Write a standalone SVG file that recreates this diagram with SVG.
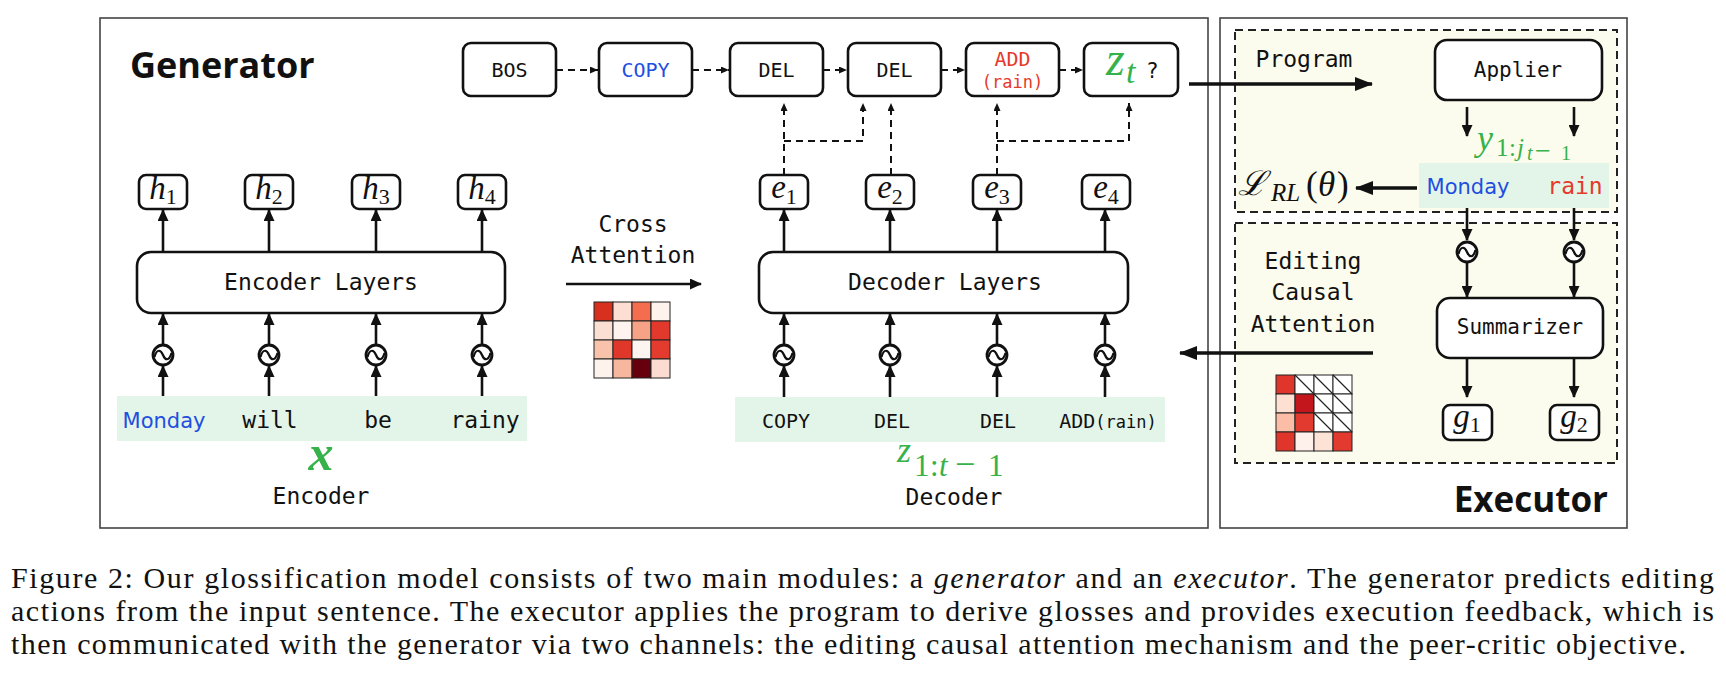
<svg xmlns="http://www.w3.org/2000/svg" xmlns:xlink="http://www.w3.org/1999/xlink" width="1726" height="684" viewBox="0 0 1726 684">
<style>
.frame{fill:#fff;stroke:#444;stroke-width:1.6}
.box{fill:#fff;stroke:#111;stroke-width:2.6}
.mono{font-family:"DejaVu Sans Mono","Liberation Mono",monospace;fill:#111}
.sans{font-family:"DejaVu Sans","Liberation Sans",sans-serif}
.title{font-family:"Open Sans","Liberation Sans",sans-serif;font-weight:700;fill:#111}
.mi{font-family:"Liberation Serif","Times New Roman",serif;font-style:italic;fill:#111}
.rm{font-style:normal}
.green{fill:#36b24a}
.blue{fill:#1f4fe0}
.red{fill:#e5392b}
.band{fill:#e3f5e8}
.cream{fill:#fcfcee;stroke:#222;stroke-width:2;stroke-dasharray:8 5}
.ln{stroke:#111;stroke-width:2.6;fill:none}
.lnb{stroke:#111;stroke-width:3.6;fill:none}
.dash{stroke:#111;stroke-width:2;fill:none;stroke-dasharray:7 5}
.gl{stroke:#d2d2d2;stroke-width:1.1;fill:none}
.cell{stroke:#222;stroke-width:1}
.cap{font-family:"Liberation Serif","Times New Roman",serif;font-size:30px;fill:#111}
</style>
<defs>
<marker id="a" viewBox="0 0 12 11" refX="11" refY="5.5" markerWidth="12" markerHeight="11" orient="auto" markerUnits="userSpaceOnUse"><path d="M0,0 L12,5.5 L0,11 z" fill="#111"/></marker>
<marker id="ab" viewBox="0 0 18 14" refX="17" refY="7" markerWidth="18" markerHeight="14" orient="auto" markerUnits="userSpaceOnUse"><path d="M0,0 L18,7 L0,14 z" fill="#111"/></marker>
<marker id="ad" viewBox="0 0 8 7" refX="8" refY="3.5" markerWidth="8" markerHeight="7" orient="auto" markerUnits="userSpaceOnUse"><path d="M0,0 L8,3.5 L0,7 z" fill="#111"/></marker>
<g id="sig"><circle cx="0" cy="0" r="10" fill="#fff" stroke="#111" stroke-width="2.8"/><path d="M-8.5,2 C-6,-7 -2,-5 0,0 C2,5 6,7 8.5,-2" fill="none" stroke="#111" stroke-width="2.2"/></g>
</defs>
<rect width="1726" height="684" fill="#fff"/>

<!-- frames -->
<g id="generator-frame">
<rect class="frame" x="100" y="18" width="1108" height="510"/>
<text class="title" x="130" y="78" font-size="36">Generator</text>
</g>
<g id="executor-frame">
<rect class="frame" x="1220" y="18" width="407" height="510"/>
<rect class="cream" x="1235" y="30" width="382" height="182"/>
<rect class="cream" x="1235" y="223" width="382" height="240"/>
<text class="title" x="1608" y="512" font-size="35" text-anchor="end">Executor</text>
</g>

<!-- top row action boxes -->
<g id="bos"><rect class="box" x="463" y="43" width="93" height="53" rx="8"/><text class="mono" x="509.5" y="77" font-size="20" text-anchor="middle">BOS</text></g>
<g id="copy"><rect class="box" x="599" y="43" width="93" height="53" rx="8" stroke="#2f6fe0"/><text class="mono blue" x="645.5" y="77" font-size="20" text-anchor="middle">COPY</text></g>
<g id="del1"><rect class="box" x="730" y="43" width="93" height="53" rx="8"/><text class="mono" x="776.5" y="77" font-size="20" text-anchor="middle">DEL</text></g>
<g id="del2"><rect class="box" x="848" y="43" width="93" height="53" rx="8"/><text class="mono" x="894.5" y="77" font-size="20" text-anchor="middle">DEL</text></g>
<g id="add"><rect class="box" x="966" y="43" width="93" height="53" rx="8" stroke="#e8303a"/><text class="mono red" x="1012.5" y="66" font-size="20" text-anchor="middle">ADD</text><text class="mono red" x="1012.5" y="88" font-size="17" text-anchor="middle">(rain)</text></g>
<g id="zt"><rect class="box" x="1084" y="43" width="94" height="53" rx="8" fill="#e3f5e8"/><text class="mi green" x="1106" y="75" font-size="48">z</text><text class="mi green" x="1126" y="83" font-size="34">t</text><text class="mono" x="1146" y="78" font-size="21">?</text></g>

<!-- encoder -->
<g id="h1"><rect class="box" x="139" y="175" width="48" height="34" rx="7"/><text class="mi" x="163" y="199" font-size="33" text-anchor="middle">h<tspan class="rm" font-size="22" dy="5">1</tspan></text></g>
<g id="h2"><rect class="box" x="245" y="175" width="48" height="34" rx="7"/><text class="mi" x="269" y="199" font-size="33" text-anchor="middle">h<tspan class="rm" font-size="22" dy="5">2</tspan></text></g>
<g id="h3"><rect class="box" x="352" y="175" width="48" height="34" rx="7"/><text class="mi" x="376" y="199" font-size="33" text-anchor="middle">h<tspan class="rm" font-size="22" dy="5">3</tspan></text></g>
<g id="h4"><rect class="box" x="458" y="175" width="48" height="34" rx="7"/><text class="mi" x="482" y="199" font-size="33" text-anchor="middle">h<tspan class="rm" font-size="22" dy="5">4</tspan></text></g>

<g id="encoder-layers">
<rect x="137" y="252" width="368" height="61" rx="14" fill="#fff"/>
<path class="gl" d="M163,313 L163,252 M163,313 L269,252 M163,313 L376,252 M163,313 L482,252 M269,313 L163,252 M269,313 L269,252 M269,313 L376,252 M269,313 L482,252 M376,313 L163,252 M376,313 L269,252 M376,313 L376,252 M376,313 L482,252 M482,313 L163,252 M482,313 L269,252 M482,313 L376,252 M482,313 L482,252"/>
<rect class="box" x="137" y="252" width="368" height="61" rx="14" fill="none"/>
<text class="mono" x="321" y="290" font-size="23" text-anchor="middle">Encoder Layers</text>
</g>

<g id="input-x">
<rect class="band" x="117" y="396" width="410" height="45"/>
<text class="sans blue" x="164" y="428" font-size="21" text-anchor="middle">Monday</text>
<text class="mono" x="270" y="428" font-size="23" text-anchor="middle">will</text>
<text class="mono" x="378" y="428" font-size="23" text-anchor="middle">be</text>
<text class="mono" x="485" y="428" font-size="23" text-anchor="middle">rainy</text>
<text class="mi green" x="321" y="470" font-size="50" font-weight="700" text-anchor="middle">x</text>
<text class="mono" x="321" y="504" font-size="23" text-anchor="middle">Encoder</text>
</g>

<!-- cross attention -->
<g id="cross-attention">
<text class="mono" x="633" y="232" font-size="23" text-anchor="middle">Cross</text>
<text class="mono" x="633" y="263" font-size="23" text-anchor="middle">Attention</text>
<g class="cell">
<rect x="594" y="302" width="19" height="19" fill="#d7301f"/><rect x="613" y="302" width="19" height="19" fill="#fcdfd2"/><rect x="632" y="302" width="19" height="19" fill="#f46d4e"/><rect x="651" y="302" width="19" height="19" fill="#fef2ec"/>
<rect x="594" y="321" width="19" height="19" fill="#fbdfd2"/><rect x="613" y="321" width="19" height="19" fill="#fef3ee"/><rect x="632" y="321" width="19" height="19" fill="#f6a287"/><rect x="651" y="321" width="19" height="19" fill="#e2392c"/>
<rect x="594" y="340" width="19" height="19" fill="#f9c2ab"/><rect x="613" y="340" width="19" height="19" fill="#e0372b"/><rect x="632" y="340" width="19" height="19" fill="#fef4ef"/><rect x="651" y="340" width="19" height="19" fill="#e33c2f"/>
<rect x="594" y="359" width="19" height="19" fill="#fef2ec"/><rect x="613" y="359" width="19" height="19" fill="#f7b69e"/><rect x="632" y="359" width="19" height="19" fill="#67000d"/><rect x="651" y="359" width="19" height="19" fill="#fcdcd0"/>
</g>
</g>

<!-- decoder -->
<g id="e1"><rect class="box" x="760" y="175" width="48" height="34" rx="7"/><text class="mi" x="784" y="198" font-size="33" text-anchor="middle">e<tspan class="rm" font-size="22" dy="6">1</tspan></text></g>
<g id="e2"><rect class="box" x="866" y="175" width="48" height="34" rx="7"/><text class="mi" x="890" y="198" font-size="33" text-anchor="middle">e<tspan class="rm" font-size="22" dy="6">2</tspan></text></g>
<g id="e3"><rect class="box" x="973" y="175" width="48" height="34" rx="7"/><text class="mi" x="997" y="198" font-size="33" text-anchor="middle">e<tspan class="rm" font-size="22" dy="6">3</tspan></text></g>
<g id="e4"><rect class="box" x="1082" y="175" width="48" height="34" rx="7"/><text class="mi" x="1106" y="198" font-size="33" text-anchor="middle">e<tspan class="rm" font-size="22" dy="6">4</tspan></text></g>

<g id="decoder-layers">
<rect x="759" y="252" width="369" height="61" rx="14" fill="#fff"/>
<path class="gl" d="M784,313 L890,252 M784,313 L997,252 M784,313 L1105,252 M890,313 L997,252 M890,313 L1105,252 M997,313 L1105,252"/>
<rect class="box" x="759" y="252" width="369" height="61" rx="14" fill="none"/>
<text class="mono" x="945" y="290" font-size="23" text-anchor="middle">Decoder Layers</text>
</g>

<g id="input-z">
<rect class="band" x="735" y="397" width="430" height="45"/>
<text class="mono" x="786" y="428" font-size="20" text-anchor="middle">COPY</text>
<text class="mono" x="892" y="428" font-size="20" text-anchor="middle">DEL</text>
<text class="mono" x="998" y="428" font-size="20" text-anchor="middle">DEL</text>
<text class="mono" x="1108" y="428" font-size="20" text-anchor="middle">ADD<tspan font-size="17">(rain)</tspan></text>
<text class="mi green" font-size="31"><tspan x="897" y="462" font-size="36">z</tspan><tspan class="rm" x="914" y="476">1</tspan><tspan class="rm" x="930" y="476">:</tspan><tspan x="939" y="476">t</tspan><tspan class="rm" x="955" y="476" font-size="36">−</tspan><tspan class="rm" x="988" y="476">1</tspan></text>
<text class="mono" x="954" y="505" font-size="23" text-anchor="middle">Decoder</text>
</g>

<!-- executor -->
<g id="applier"><rect class="box" x="1435" y="40" width="167" height="60" rx="12"/><text class="mono" x="1518" y="77" font-size="21" text-anchor="middle">Applier</text></g>
<g id="program-label"><text class="mono" x="1304" y="67" font-size="23" text-anchor="middle">Program</text></g>
<g id="gloss-output">
<text class="mi green" font-size="36"><tspan x="1477" y="150">y</tspan><tspan class="rm" x="1496" y="156" font-size="25">1</tspan><tspan class="rm" x="1509" y="156" font-size="25">:</tspan><tspan x="1517" y="156" font-size="25">j</tspan><tspan x="1527" y="160" font-size="20">t</tspan><tspan class="rm" x="1535" y="160" font-size="28">−</tspan><tspan class="rm" x="1561" y="160" font-size="20">1</tspan></text>
<rect class="band" x="1419" y="163" width="190" height="45"/>
<text class="sans blue" x="1468" y="194" font-size="21" text-anchor="middle">Monday</text>
<text class="mono red" x="1575" y="194" font-size="23" text-anchor="middle">rain</text>
</g>
<g id="loss"><text class="mi" font-size="35"><tspan x="1238" y="195" font-family="DejaVu Serif, serif" font-size="34">ℒ</tspan><tspan x="1271" y="201" font-size="25">RL</tspan><tspan class="rm" x="1306" y="196">(</tspan><tspan x="1318" y="196">θ</tspan><tspan class="rm" x="1337" y="196">)</tspan></text></g>
<g id="eca-label">
<text class="mono" x="1313" y="269" font-size="23" text-anchor="middle">Editing</text>
<text class="mono" x="1313" y="300" font-size="23" text-anchor="middle">Causal</text>
<text class="mono" x="1313" y="332" font-size="23" text-anchor="middle">Attention</text>
</g>
<g id="causal-map" class="cell">
<rect x="1276" y="375" width="19" height="19" fill="#e0352b"/><rect x="1295" y="375" width="19" height="19" fill="#fff"/><rect x="1314" y="375" width="19" height="19" fill="#fff"/><rect x="1333" y="375" width="19" height="19" fill="#fff"/>
<rect x="1276" y="394" width="19" height="19" fill="#fde0d2"/><rect x="1295" y="394" width="19" height="19" fill="#c3151c"/><rect x="1314" y="394" width="19" height="19" fill="#fff"/><rect x="1333" y="394" width="19" height="19" fill="#fff"/>
<rect x="1276" y="413" width="19" height="19" fill="#fcbda6"/><rect x="1295" y="413" width="19" height="19" fill="#e23a2e"/><rect x="1314" y="413" width="19" height="19" fill="#fff"/><rect x="1333" y="413" width="19" height="19" fill="#fff"/>
<rect x="1276" y="432" width="19" height="19" fill="#e0352b"/><rect x="1295" y="432" width="19" height="19" fill="#fef0ea"/><rect x="1314" y="432" width="19" height="19" fill="#fde3d6"/><rect x="1333" y="432" width="19" height="19" fill="#e23a2e"/>
<path d="M1295,375 L1314,394 M1314,375 L1333,394 M1333,375 L1352,394 M1314,394 L1333,413 M1333,394 L1352,413 M1314,413 L1333,432 M1333,413 L1352,432" stroke="#222" stroke-width="1.2"/>
</g>
<g id="summarizer">
<rect x="1437" y="298" width="166" height="60" rx="13" fill="#fff"/>
<path class="gl" d="M1467,298 L1467,358 M1574,298 L1574,358 M1467,298 L1574,358 M1574,298 L1467,358"/>
<rect class="box" x="1437" y="298" width="166" height="60" rx="13" fill="none"/>
<text class="mono" x="1520" y="334" font-size="21" text-anchor="middle">Summarizer</text>
</g>
<g id="g1"><rect class="box" x="1443" y="405" width="49" height="35" rx="7"/><text class="mi" x="1467" y="427" font-size="33" text-anchor="middle">g<tspan class="rm" font-size="22" dy="5">1</tspan></text></g>
<g id="g2"><rect class="box" x="1550" y="405" width="49" height="35" rx="7"/><text class="mi" x="1574" y="427" font-size="33" text-anchor="middle">g<tspan class="rm" font-size="22" dy="5">2</tspan></text></g>

<!-- connectors -->
<g id="connectors">
<path class="dash" d="M556,70 L598,70" marker-end="url(#ad)"/>
<path class="dash" d="M692,70 L729,70" marker-end="url(#ad)"/>
<path class="dash" d="M823,70 L847,70" marker-end="url(#ad)"/>
<path class="dash" d="M941,70 L965,70" marker-end="url(#ad)"/>
<path class="dash" d="M1059,70 L1083,70" marker-end="url(#ad)"/>
<path class="dash" d="M784,175 L784,103" marker-end="url(#ad)"/>
<path class="dash" d="M784,141 L863,141 L863,103" marker-end="url(#ad)"/>
<path class="dash" d="M891,175 L891,103" marker-end="url(#ad)"/>
<path class="dash" d="M997,175 L997,103" marker-end="url(#ad)"/>
<path class="dash" d="M997,141 L1129,141 L1129,103" marker-end="url(#ad)"/>
<path class="ln" d="M163,252 L163,210" marker-end="url(#a)"/><path class="ln" d="M269,252 L269,210" marker-end="url(#a)"/><path class="ln" d="M376,252 L376,210" marker-end="url(#a)"/><path class="ln" d="M482,252 L482,210" marker-end="url(#a)"/>
<path class="ln" d="M163,345 L163,314" marker-end="url(#a)"/><path class="ln" d="M269,345 L269,314" marker-end="url(#a)"/><path class="ln" d="M376,345 L376,314" marker-end="url(#a)"/><path class="ln" d="M482,345 L482,314" marker-end="url(#a)"/>
<path class="ln" d="M163,396 L163,366" marker-end="url(#a)"/><path class="ln" d="M269,396 L269,366" marker-end="url(#a)"/><path class="ln" d="M376,396 L376,366" marker-end="url(#a)"/><path class="ln" d="M482,396 L482,366" marker-end="url(#a)"/>
<use xlink:href="#sig" x="163" y="355"/><use xlink:href="#sig" x="269" y="355"/><use xlink:href="#sig" x="376" y="355"/><use xlink:href="#sig" x="482" y="355"/>
<path class="ln" d="M784,252 L784,210" marker-end="url(#a)"/><path class="ln" d="M890,252 L890,210" marker-end="url(#a)"/><path class="ln" d="M997,252 L997,210" marker-end="url(#a)"/><path class="ln" d="M1105,252 L1105,210" marker-end="url(#a)"/>
<path class="ln" d="M784,345 L784,314" marker-end="url(#a)"/><path class="ln" d="M890,345 L890,314" marker-end="url(#a)"/><path class="ln" d="M997,345 L997,314" marker-end="url(#a)"/><path class="ln" d="M1105,345 L1105,314" marker-end="url(#a)"/>
<path class="ln" d="M784,397 L784,366" marker-end="url(#a)"/><path class="ln" d="M890,397 L890,366" marker-end="url(#a)"/><path class="ln" d="M997,397 L997,366" marker-end="url(#a)"/><path class="ln" d="M1105,397 L1105,366" marker-end="url(#a)"/>
<use xlink:href="#sig" x="784" y="355"/><use xlink:href="#sig" x="890" y="355"/><use xlink:href="#sig" x="997" y="355"/><use xlink:href="#sig" x="1105" y="355"/>
<path class="ln" d="M566,284 L701,284" marker-end="url(#a)"/>
<path class="lnb" d="M1189,84 L1372,84" marker-end="url(#ab)"/>
<path class="ln" d="M1467,107 L1467,136" marker-end="url(#a)"/><path class="ln" d="M1574,107 L1574,136" marker-end="url(#a)"/>
<path class="lnb" d="M1417,188 L1356,188" marker-end="url(#ab)"/>
<path class="ln" d="M1467,208 L1467,240" marker-end="url(#a)"/><path class="ln" d="M1574,208 L1574,240" marker-end="url(#a)"/>
<use xlink:href="#sig" x="1467" y="252"/><use xlink:href="#sig" x="1574" y="252"/>
<path class="ln" d="M1467,262 L1467,297" marker-end="url(#a)"/><path class="ln" d="M1574,262 L1574,297" marker-end="url(#a)"/>
<path class="ln" d="M1467,358 L1467,397" marker-end="url(#a)"/><path class="ln" d="M1574,358 L1574,397" marker-end="url(#a)"/>
<path class="lnb" d="M1373,353 L1180,353" marker-end="url(#ab)"/>
</g>

<!-- caption -->
<g id="caption">
<text class="cap" x="11" y="588" textLength="1703" lengthAdjust="spacing">Figure 2: Our glossification model consists of two main modules: a <tspan font-style="italic">generator</tspan> and an <tspan font-style="italic">executor</tspan>. The generator predicts editing</text>
<text class="cap" x="11" y="621" textLength="1703" lengthAdjust="spacing">actions from the input sentence. The executor applies the program to derive glosses and provides execution feedback, which is</text>
<text class="cap" x="11" y="654" textLength="1675" lengthAdjust="spacing">then communicated with the generator via two channels: the editing causal attention mechanism and the peer-critic objective.</text>
</g>
</svg>
